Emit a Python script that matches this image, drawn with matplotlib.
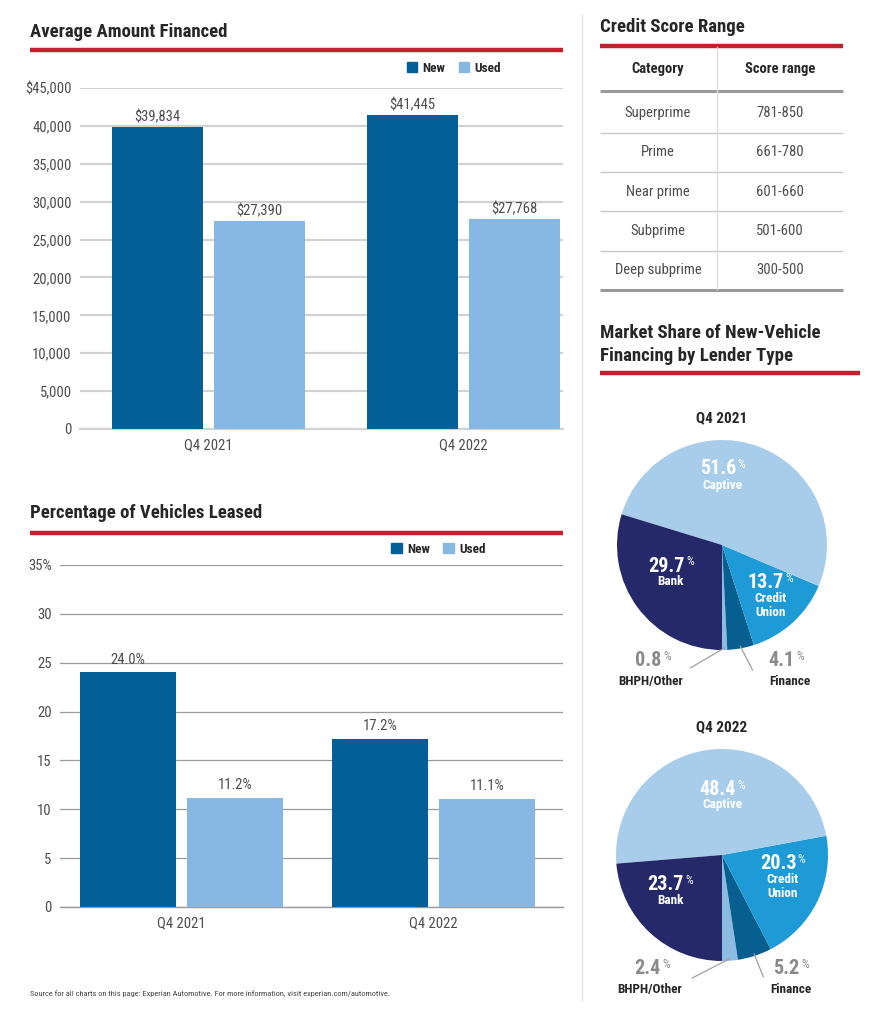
import matplotlib
matplotlib.use("Agg")
import matplotlib.pyplot as plt
from matplotlib.lines import Line2D
from matplotlib.patches import Patch
import numpy as np

plt.rcParams["font.family"] = ["Roboto Condensed", "Liberation Sans Narrow", "Roboto", "DejaVu Sans"]

# data
quarters = ["Q4 2021", "Q4 2022"]
financed_new = [39834, 41445]
financed_used = [27390, 27768]
leased_new = [24.0, 17.2]
leased_used = [11.2, 11.1]

score_categories = ["Superprime", "Prime", "Near prime", "Subprime", "Deep subprime"]
score_ranges = ["781-850", "661-780", "601-660", "501-600", "300-500"]

lenders = ["BHPH/Other", "Finance", "Credit\nUnion", "Captive", "Bank"]
share_2021 = [0.8, 4.1, 13.7, 51.6, 29.7]
share_2022 = [2.4, 5.2, 20.3, 48.4, 23.7]

NEW = "#045f96"
USED = "#87b8e3"
RED = "#c2202f"
DARK = "#262626"
GRAY = "#4d4d4d"
pie_colors = ["#8cbbe2", "#075f90", "#1e9ad6", "#a8cdeb", "#25296a"]

W, H = 880, 1024
fig = plt.figure(figsize=(W / 100, H / 100), dpi=100)


def px_axes(x0, y0, x1, y1, **kw):
    # pixel box (top-left origin) -> figure axes
    return fig.add_axes([x0 / W, 1 - y1 / H, (x1 - x0) / W, (y1 - y0) / H], **kw)


def ftext(x, y, s, **kw):
    fig.text(x / W, 1 - y / H, s, **kw)


def hline(x0, x1, y, color, lw):
    fig.add_artist(Line2D([x0 / W, x1 / W], [1 - y / H, 1 - y / H],
                          color=color, lw=lw, solid_capstyle="butt"))


def section_title(x, y, s, x1, yline):
    ftext(x, y, s, fontsize=13.5, fontweight="bold", color=DARK, va="center")
    hline(x, x1, yline, RED, 3.2)


def legend(ax, x, y):
    handles = [Patch(color=NEW, label="New"), Patch(color=USED, label="Used")]
    lg = ax.legend(handles=handles, loc="center right", bbox_to_anchor=(x, y),
                   bbox_transform=ax.transAxes, ncol=2, frameon=False,
                   handlelength=0.8, handleheight=0.8, handletextpad=0.4,
                   columnspacing=1.0, prop={"size": 9.5, "weight": "bold"})
    for t in lg.get_texts():
        t.set_color(DARK)


def style_bar_axes(ax):
    ax.tick_params(length=0, labelsize=10.5, labelcolor=GRAY)
    ax.tick_params(axis="y", pad=6)
    ax.tick_params(axis="x", pad=7)
    for s in ax.spines.values():
        s.set_visible(False)


# ---- Average Amount Financed
section_title(30, 32, "Average Amount Financed", 563, 50)
ax1 = px_axes(80, 88, 563, 429)
x = np.arange(len(quarters))
b1 = ax1.bar(x - 0.2, financed_new, 0.36, color=NEW, zorder=3)
b2 = ax1.bar(x + 0.2, financed_used, 0.36, color=USED, zorder=3)
for bars in (b1, b2):
    ax1.bar_label(bars, labels=[f"${v:,.0f}" for v in bars.datavalues],
                  padding=2, fontsize=10.5, color=GRAY)
ax1.set_ylim(0, 45000)
ax1.set_xlim(-0.504, 1.39)
yt = np.arange(0, 45001, 5000)
ax1.set_yticks(yt)
ax1.set_yticklabels([("$" if v == 45000 else "") + f"{v:,}" for v in yt])
ax1.set_xticks(x)
ax1.set_xticklabels(quarters)
ax1.grid(axis="y", color="#d2d2d2", lw=1.6, zorder=0)
ax1.axhline(0, color="#d2d2d2", lw=1.6, zorder=1, clip_on=False)
style_bar_axes(ax1)
legend(ax1, 0.896, 1.058)

# ---- Percentage of Vehicles Leased
section_title(30, 513, "Percentage of Vehicles Leased", 563, 533)
ax2 = px_axes(60, 565, 563, 907)
b3 = ax2.bar(x - 0.212, leased_new, 0.38, color=NEW, zorder=3)
b4 = ax2.bar(x + 0.212, leased_used, 0.38, color=USED, zorder=3)
for bars in (b3, b4):
    ax2.bar_label(bars, labels=[f"{v:.1f}%" for v in bars.datavalues],
                  padding=4, fontsize=10.5, color=GRAY)
ax2.set_ylim(0, 35)
ax2.set_xlim(-0.482, 1.514)
yt2 = np.arange(0, 36, 5)
ax2.set_yticks(yt2)
ax2.set_yticklabels([f"{v}%" if v == 35 else f"{v}" for v in yt2])
ax2.set_xticks(x)
ax2.set_xticklabels(quarters)
ax2.grid(axis="y", color="#9a9a9a", lw=0.9, zorder=0)
ax2.axhline(0, color="#9a9a9a", lw=1.0, zorder=1, clip_on=False)
style_bar_axes(ax2)
legend(ax2, 0.87, 1.046)

ftext(30, 994, "Source for all charts on this page: Experian Automotive. For more information, visit experian.com/automotive.",
      fontsize=6, color="#444444", va="center")

# divider
fig.add_artist(Line2D([582 / W, 582 / W], [1 - 15 / H, 1 - 1000 / H], color="#e2e2e2", lw=1))

# ---- Credit Score Range table
section_title(600, 27, "Credit Score Range", 843, 46)
ftext(658, 69, "Category", fontsize=10.5, fontweight="bold", color=DARK, ha="center", va="center")
ftext(780, 69, "Score range", fontsize=10.5, fontweight="bold", color=DARK, ha="center", va="center")
hline(600, 843, 91, "#9a9a9a", 2.2)
row_y0, row_h = 113, 39.3
for i, (cat, rng) in enumerate(zip(score_categories, score_ranges)):
    yy = row_y0 + i * row_h
    ftext(658, yy, cat, fontsize=10.5, color=GRAY, ha="center", va="center")
    ftext(780, yy, rng, fontsize=10.5, color=GRAY, ha="center", va="center")
    if i < len(score_categories) - 1:
        hline(600, 843, yy + row_h / 2, "#c8c8c8", 1.0)
hline(600, 843, 290, "#9a9a9a", 2.2)
fig.add_artist(Line2D([717 / W, 717 / W], [1 - 47 / H, 1 - 289 / H], color="#dddddd", lw=1))

# ---- Market share pies
ftext(600, 333, "Market Share of New-Vehicle", fontsize=13.5, fontweight="bold", color=DARK, va="center")
section_title(600, 356, "Financing by Lender Type", 860, 373)


def pct(ax, x0, y0, val, size, color):
    t = ax.text(x0 - 0.04, y0, f"{val:.1f}", fontsize=size, fontweight="bold", color=color,
                ha="center", va="center")
    ax.annotate("%", xy=(1.0, 0.72), xycoords=t, xytext=(1, 0), textcoords="offset points",
                fontsize=size * 0.6, color=color, ha="left", va="center")


def draw_pie(cx, cy, r, title, vals, inside, outside, leaders):
    ax = px_axes(cx - r * 1.5, cy - r * 1.5, cx + r * 1.5, cy + r * 1.5)
    ax.pie(vals, colors=pie_colors, startangle=270, counterclock=True,
           wedgeprops={"linewidth": 0})
    ax.set_xlim(-1.5, 1.5)
    ax.set_ylim(-1.5, 1.5)
    ax.set_aspect("equal")
    ax.axis("off")
    ftext(cx, cy - r - 22, title, fontsize=11, fontweight="bold", color=DARK, ha="center", va="center")
    for i, (lx, ly, ny) in inside.items():
        pct(ax, lx, ly, vals[i], 14.5, "white")
        ax.text(lx, ny, lenders[i], fontsize=9.5, fontweight="bold", color="white",
                ha="center", va="top", linespacing=1.1)
    for i, (lx, ly, nx, ny) in outside.items():
        pct(ax, lx, ly, vals[i], 14.5, "#8a8a8a")
        ax.text(nx, ny, lenders[i], fontsize=9.5, fontweight="bold", color=DARK,
                ha="center", va="center")
    for i, (ex, ey) in leaders.items():
        ang = np.deg2rad(270 + 360 * (sum(vals[:i]) + vals[i] / 2) / 100)
        ax.plot([0.98 * np.cos(ang), ex], [0.98 * np.sin(ang), ey], color="#a0a0a0", lw=0.9)


draw_pie(722, 545, 105, "Q4 2021", share_2021,
         {3: (0.0, 0.73, 0.63), 4: (-0.49, -0.2, -0.29), 2: (0.46, -0.36, -0.45)},
         {0: (-0.66, -1.10, -0.68, -1.30), 1: (0.61, -1.10, 0.65, -1.30)},
         {0: (-0.30, -1.17), 1: (0.29, -1.19)})
draw_pie(722, 855, 106, "Q4 2022", share_2022,
         {3: (0.0, 0.62, 0.54), 4: (-0.49, -0.28, -0.37), 2: (0.57, -0.08, -0.17)},
         {0: (-0.66, -1.07, -0.68, -1.27), 1: (0.65, -1.07, 0.65, -1.27)},
         {0: (-0.28, -1.16), 1: (0.39, -1.15)})

fig.savefig("out.png", dpi=100, facecolor="white")
